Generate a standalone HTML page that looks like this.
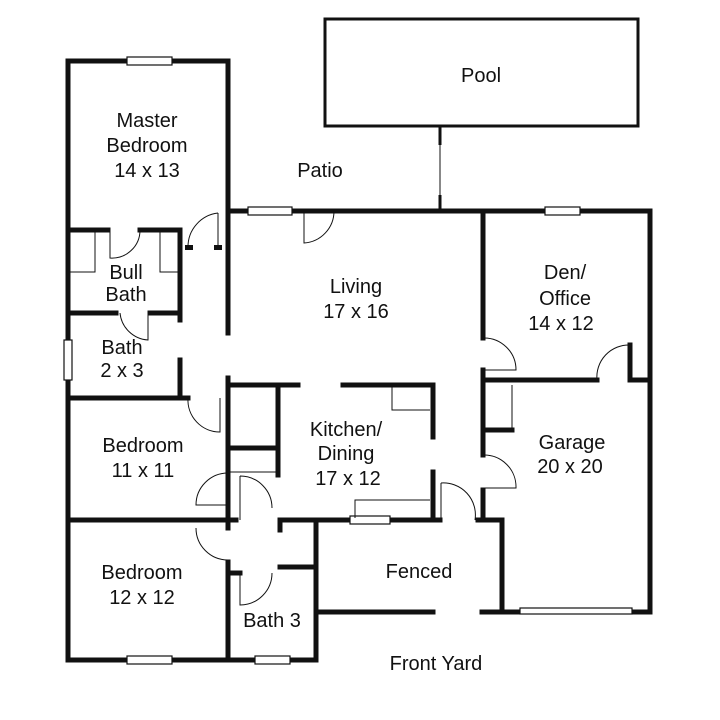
<!DOCTYPE html>
<html><head><meta charset="utf-8"><style>
html,body{margin:0;padding:0;background:#fff}
svg{display:block}
text{font-family:"Liberation Sans","DejaVu Sans",sans-serif;fill:#111;text-anchor:middle;font-size:20px}
</style></head><body>
<svg width="720" height="720" viewBox="0 0 720 720" xmlns="http://www.w3.org/2000/svg">
<rect width="720" height="720" fill="#fff"/>
<rect x="325" y="19" width="313" height="107" fill="none" stroke="#111" stroke-width="3"/>
<line x1="440" y1="126" x2="440" y2="210" stroke="#111" stroke-width="1"/>
<line x1="440" y1="126" x2="440" y2="145" stroke="#111" stroke-width="3"/>
<line x1="440" y1="195" x2="440" y2="210" stroke="#111" stroke-width="3"/>
<g stroke="#111" stroke-width="5" fill="none" stroke-linecap="square">
<line x1="68" y1="61" x2="68" y2="660"/>
<line x1="68" y1="61" x2="228" y2="61"/>
<line x1="228" y1="61" x2="228" y2="333"/>
<line x1="230" y1="211" x2="650" y2="211"/>
<line x1="650" y1="211" x2="650" y2="612"/>
<line x1="70" y1="230" x2="108" y2="230"/>
<line x1="140" y1="230" x2="180" y2="230"/>
<line x1="180" y1="230" x2="180" y2="320"/>
<line x1="70" y1="313" x2="116" y2="313"/>
<line x1="150" y1="313" x2="180" y2="313"/>
<line x1="70" y1="398" x2="188" y2="398"/>
<line x1="180" y1="360" x2="180" y2="398"/>
<line x1="228" y1="378" x2="228" y2="528"/>
<line x1="70" y1="520" x2="236" y2="520"/>
<line x1="228" y1="385" x2="298" y2="385"/>
<line x1="343" y1="385" x2="433" y2="385"/>
<line x1="278" y1="385" x2="278" y2="475"/>
<line x1="230" y1="448" x2="278" y2="448"/>
<line x1="433" y1="385" x2="433" y2="437"/>
<line x1="433" y1="472" x2="433" y2="520"/>
<line x1="280" y1="520" x2="440" y2="520"/>
<line x1="478" y1="520" x2="502" y2="520"/>
<line x1="483" y1="211" x2="483" y2="338"/>
<line x1="483" y1="370" x2="483" y2="455"/>
<line x1="483" y1="490" x2="483" y2="520"/>
<line x1="483" y1="380" x2="597" y2="380"/>
<line x1="630" y1="345" x2="630" y2="380"/>
<line x1="630" y1="380" x2="650" y2="380"/>
<line x1="483" y1="430" x2="512" y2="430"/>
<line x1="502" y1="520" x2="502" y2="612"/>
<line x1="502" y1="612" x2="520" y2="612"/>
<line x1="632" y1="612" x2="650" y2="612"/>
<line x1="316" y1="522" x2="316" y2="660"/>
<line x1="318" y1="612" x2="433" y2="612"/>
<line x1="482" y1="612" x2="500" y2="612"/>
<line x1="228" y1="562" x2="228" y2="660"/>
<line x1="228" y1="573" x2="240" y2="573"/>
<line x1="280" y1="567" x2="316" y2="567"/>
<line x1="68" y1="660" x2="316" y2="660"/>
<line x1="280" y1="520" x2="280" y2="530"/>
</g>
<g fill="#fff" stroke="#111" stroke-width="1.2">
<rect x="127" y="57" width="45" height="8"/>
<rect x="248" y="207" width="44" height="8"/>
<rect x="545" y="207" width="35" height="8"/>
<rect x="64" y="340" width="8" height="40"/>
<rect x="350" y="516" width="40" height="8"/>
<rect x="127" y="656" width="45" height="8"/>
<rect x="255" y="656" width="35" height="8"/>
<rect x="520" y="608" width="112" height="6"/>
</g>
<g fill="none" stroke="#111" stroke-width="1">
<path d="M110 230 V258 A28 28 0 0 0 140 230"/>
<path d="M218 213 V247 M218 213 A34 34 0 0 0 188 247"/>
<path d="M304 211 V243 A32 32 0 0 0 334 211"/>
<path d="M120 313 A30 30 0 0 0 148 340 V313"/>
<path d="M188 398 A32 32 0 0 0 220 432 V398"/>
<path d="M228 473 A32 32 0 0 0 196 505 H228"/>
<path d="M240 476 A32 32 0 0 1 272 508 M240 476 V520"/>
<path d="M196 528 A32 32 0 0 0 228 560"/>
<path d="M240 573 V605 A32 32 0 0 0 272 573"/>
<path d="M441 483 A32 32 0 0 1 475 520 M441 483 V520"/>
<path d="M483 455 A32 32 0 0 1 516 488 H483"/>
<path d="M483 338 A32 32 0 0 1 516 370 H483"/>
<path d="M630 345 A32 32 0 0 0 597 380"/>
<path d="M392 385 V410 H430"/>
<path d="M355 518 V500 H430"/>
<path d="M230 472 H278"/>
<path d="M512 385 V430"/>
<path d="M95 232 V272 H70 M160 232 V272 H178"/>
</g>
<g fill="#111" stroke="none"><rect x="185" y="245" width="8" height="5"/><rect x="214" y="245" width="8" height="5"/></g>
<text x="147" y="127">Master</text>
<text x="147" y="152">Bedroom</text>
<text x="147" y="177">14 x 13</text>
<text x="320" y="177">Patio</text>
<text x="481" y="82">Pool</text>
<text x="126" y="279" font-size="18">Bull</text>
<text x="126" y="301" font-size="18">Bath</text>
<text x="122" y="354">Bath</text>
<text x="122" y="377">2 x 3</text>
<text x="356" y="293">Living</text>
<text x="356" y="318">17 x 16</text>
<text x="565" y="279">Den/</text>
<text x="565" y="305">Office</text>
<text x="561" y="330">14 x 12</text>
<text x="346" y="436">Kitchen/</text>
<text x="346" y="460">Dining</text>
<text x="348" y="485">17 x 12</text>
<text x="572" y="449">Garage</text>
<text x="570" y="473">20 x 20</text>
<text x="143" y="452">Bedroom</text>
<text x="143" y="477">11 x 11</text>
<text x="142" y="579">Bedroom</text>
<text x="142" y="604">12 x 12</text>
<text x="419" y="578">Fenced</text>
<text x="272" y="627">Bath 3</text>
<text x="436" y="670">Front Yard</text>
</svg>
</body></html>
